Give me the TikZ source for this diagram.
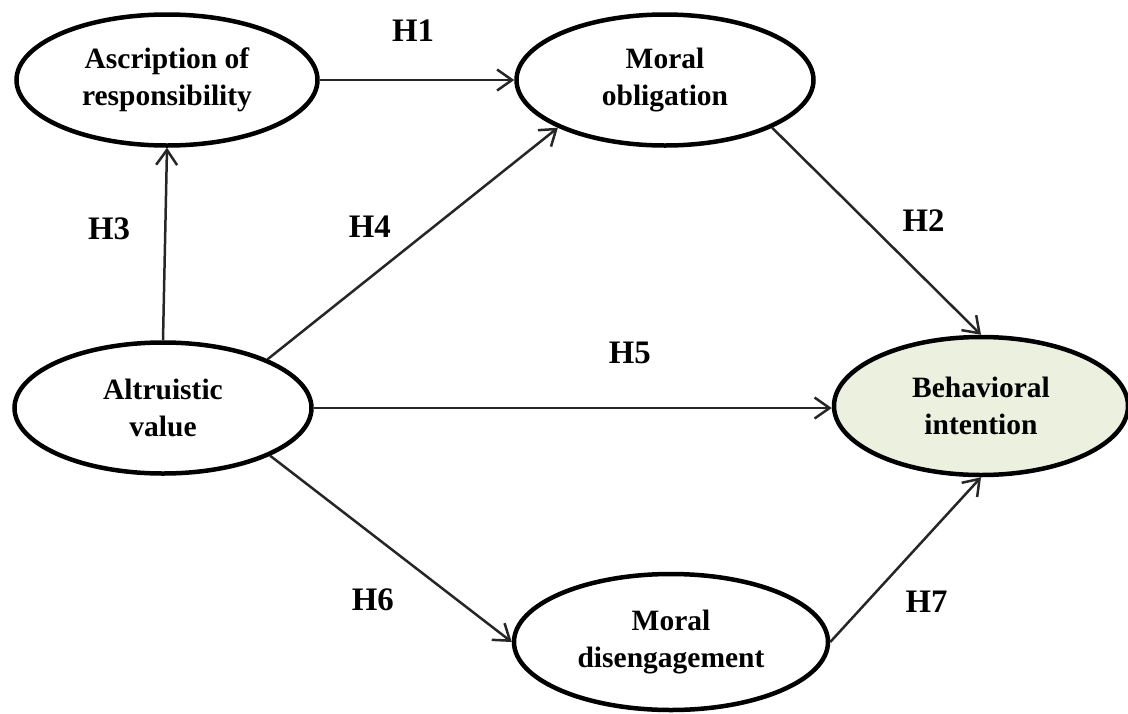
\documentclass[tikz,border=0pt]{standalone}
\usepackage{fontspec}
\setmainfont{Liberation Serif}
\usetikzlibrary{arrows.meta, positioning, shapes.geometric}
\definecolor{intentionfill}{HTML}{EBF1DE}
\newcommand{\constructwidth}{297pt}
\newcommand{\constructheight}{131pt}
\tikzstyle{construct} = [% latent construct of the model
  ellipse,
  minimum width=\constructwidth,
  minimum height=\constructheight,
  line width=4.5pt,
  align=center,
  draw=black,
  font=\fontsize{29.5}{37}\selectfont\bfseries
  ]
\tikzstyle{outcome} = [% dependent construct
  construct,
  minimum width=294pt,
  minimum height=138pt,
  fill=intentionfill
  ]
\tikzstyle{hypothesis} = [% label of a hypothesised path
  midway,
  font=\fontsize{32.8}{36}\selectfont\bfseries
  ]
\tikzstyle{arrow} = [% path between constructs
  line width=2.5pt,
  draw=black!85,
  -{Straight Barb[length=15pt,width=21pt]}
  ]

\begin{document}
\begin{tikzpicture}[on grid]
\useasboundingbox (0pt,0pt) rectangle (1128pt,-713pt);

%%% Nodes
\node[construct] (altruistic) at (163pt,-408pt) {Altruistic\\value};
\node[construct, minimum width=301pt] (ascription) [above right=328pt and 4pt of altruistic] {Ascription of\\responsibility};
\node[construct] (obligation) [right=498pt of ascription] {Moral\\obligation};
\node[outcome] (intention) [above right=2pt and 818pt of altruistic] {Behavioral\\intention};
\node[construct, minimum width=314pt, minimum height=136pt] (disengagement) [below right=234pt and 508pt of altruistic] {Moral\\disengagement};

%%% Arrows
\draw[arrow] (ascription.east) -- (obligation.west) node[hypothesis, xshift=-4pt, yshift=49pt] (h1) {H1};
\draw[arrow] (obligation.-24) -- (intention.north) node[hypothesis, xshift=47pt, yshift=11pt] (h2) {H2};
\draw[arrow] (altruistic.north) -- (ascription.south) node[hypothesis, xshift=-56pt, yshift=15pt] (h3) {H3};
\draw[arrow] (altruistic.25) -- (obligation.204) node[hypothesis, xshift=-43pt, yshift=17pt] (h4) {H4};
\draw[arrow] (altruistic.east) -- (intention.west |- altruistic.east) node[hypothesis, xshift=57pt, yshift=55pt] (h5) {H5};
\draw[arrow] (altruistic.-24) -- (disengagement.west) node[hypothesis, xshift=-18pt, yshift=-51pt] (h6) {H6};
\draw[arrow] (disengagement.east) -- (intention.south) node[hypothesis, xshift=21pt, yshift=-42pt] (h7) {H7};

\end{tikzpicture}
\end{document}
